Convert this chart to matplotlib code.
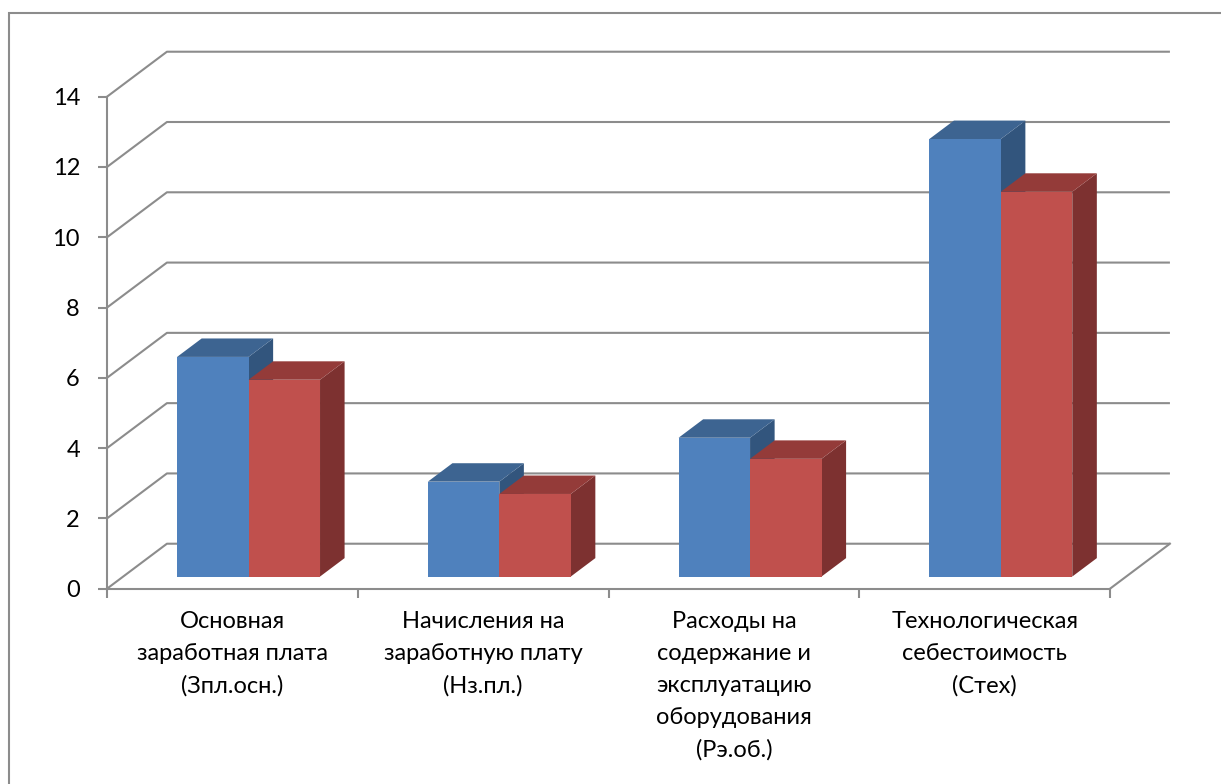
import matplotlib
matplotlib.use("Agg")
import matplotlib.pyplot as plt
from matplotlib.patches import Polygon, Rectangle

# data
categories = [
    "Основная\nзаработная плата\n(Зпл.осн.)",
    "Начисления на\nзаработную плату\n(Нз.пл.)",
    "Расходы на\nсодержание и\nэксплуатацию\nоборудования\n(Рэ.об.)",
    "Технологическая\nсебестоимость\n(Стех)",
]
series_a = [6.25, 2.7, 3.95, 12.45]
series_b = [5.6, 2.35, 3.35, 10.95]
y_ticks = [0, 2, 4, 6, 8, 10, 12, 14]

# styles
plt.rcParams['font.family'] = ['Lato', 'DejaVu Sans']
GRID = '#8c8c8c'
BLUE = ('#4f81bd', '#3d6491', '#32557d')   # front, top, side
RED = ('#c0504d', '#943b39', '#7d3130')

# oblique 3D look, in data units
WALL_DX, WALL_DY = 0.239, 1.28     # depth of the floor / back wall
BAR_Z0 = 0.27                      # depth fraction where bar fronts sit
BAR_DEPTH = 0.41                   # bar depth as fraction of wall depth
BAR_W = 0.285

W, H = 1221, 784
fig = plt.figure(figsize=(W / 100, H / 100), dpi=100)
ax = fig.add_axes([107 / W, (H - 588.7) / H, (1110 - 107) / W, (588.7 - 96.7) / H])
ax.set_xlim(0, len(categories))
ax.set_ylim(0, 14)

# outer chart border
fig.add_artist(Rectangle((9 / W, -0.1), 1.2, (H - 13) / H + 0.1,
                         transform=fig.transFigure, fill=False,
                         edgecolor=GRID, linewidth=1.5))

n = len(categories)
# back wall gridlines
for v in y_ticks:
    ax.plot([0, WALL_DX, n + WALL_DX], [v, v + WALL_DY, v + WALL_DY],
            color=GRID, lw=1.5, clip_on=False, zorder=1,
            solid_capstyle='butt')
# right floor edge
ax.plot([n, n + WALL_DX], [0, WALL_DY], color=GRID, lw=1.5, clip_on=False, zorder=1)


def draw_bar(xc, val, colors):
    bx = BAR_Z0 * WALL_DX
    by = BAR_Z0 * WALL_DY
    ddx = BAR_DEPTH * WALL_DX
    ddy = BAR_DEPTH * WALL_DY
    x0 = xc - BAR_W / 2 + bx
    x1 = xc + BAR_W / 2 + bx
    top = val + by
    side = Polygon([(x1, by), (x1 + ddx, by + ddy), (x1 + ddx, top + ddy), (x1, top)],
                   closed=True, facecolor=colors[2], edgecolor='none',
                   clip_on=False, zorder=3)
    ax.add_patch(side)
    lid = Polygon([(x0, top), (x1, top), (x1 + ddx, top + ddy), (x0 + ddx, top + ddy)],
                  closed=True, facecolor=colors[1], edgecolor='none',
                  clip_on=False, zorder=3)
    ax.add_patch(lid)
    ax.bar(xc + bx, val, width=BAR_W, bottom=by, color=colors[0],
           linewidth=0, zorder=3, clip_on=False)


for i in range(n):
    draw_bar(i + 0.5 - BAR_W / 2, series_a[i], BLUE)
    draw_bar(i + 0.5 + BAR_W / 2, series_b[i], RED)

# axes look
for s in ['top', 'right']:
    ax.spines[s].set_visible(False)
for s in ['left', 'bottom']:
    ax.spines[s].set_color(GRID)
    ax.spines[s].set_linewidth(1.5)
    ax.spines[s].set_zorder(1)
ax.set_yticks(y_ticks)
ax.set_yticklabels([str(v) for v in y_ticks])
ax.set_xticks(range(n + 1))
ax.set_xticklabels([])
ax.set_xticks([i + 0.5 for i in range(n)], minor=True)
ax.set_xticklabels(categories, minor=True, fontsize=17, linespacing=1.65)
ax.tick_params(axis='y', direction='out', length=6.5, width=1.5, color=GRID,
               pad=13, labelsize=17)
ax.tick_params(axis='x', which='major', direction='out', length=6.5, width=1.5,
               color=GRID)
ax.tick_params(axis='x', which='minor', length=0, pad=16)
ax.patch.set_visible(False)

fig.savefig('out.png', dpi=100)
